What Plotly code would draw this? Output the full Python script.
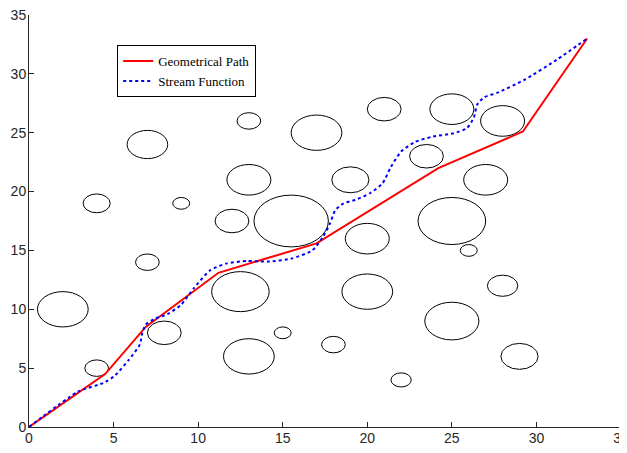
import plotly.graph_objects as go

# Obstacles (circles): centre x, centre y, radius
circle_x = [2, 4, 4, 7, 7, 8, 9, 12, 12.5, 13, 13, 13, 15, 15.5, 17, 18, 19, 20, 20, 21,
            22, 23.5, 25, 25, 25, 26, 27, 28, 28, 29]
circle_y = [10, 5, 19, 14, 24, 8, 19, 17.5, 11.5, 6, 21, 26, 8, 17.5, 25, 7, 21, 11.5, 16, 27,
            4, 23, 27, 17.5, 9, 15, 21, 26, 12, 6]
circle_r = [1.5, 0.7, 0.8, 0.7, 1.2, 1.0, 0.5, 1.0, 1.7, 1.5, 1.3, 0.7, 0.5, 2.2, 1.5, 0.7, 1.1, 1.5, 1.3, 1.0,
            0.6, 1.0, 1.3, 2.0, 1.6, 0.5, 1.3, 1.3, 0.9, 1.1]

# Geometrical path
geo_x = [0, 4.5, 6.9, 11.2, 17.0, 24.2, 29.2, 33]
geo_y = [0, 4.5, 8.5, 13.1, 15.6, 22.0, 25.1, 33]

# Stream function path
sf_x = [0, 2.9, 4.5, 5.1, 5.9, 6.55, 6.7, 6.9, 7.45, 8.2, 9.0, 9.75, 10.7, 11.7, 12.9, 14.1,
        15.5, 16.75, 17.4, 17.8, 18.1, 18.6, 19.3, 20.2, 20.9, 21.4, 22.0, 22.8, 23.8, 25.1,
        25.9, 26.3, 26.5, 26.9, 27.7, 29.3, 31.2, 33]
sf_y = [0, 3.0, 3.8, 4.4, 5.7, 7.0, 8.0, 8.7, 9.2, 9.6, 10.4, 11.8, 13.3, 13.9, 14.1, 14.05,
        14.3, 15.0, 16.2, 17.3, 18.4, 19.0, 19.3, 19.9, 20.7, 22.1, 23.4, 24.2, 24.65, 24.95,
        25.4, 26.3, 27.4, 28.0, 28.4, 29.5, 31.2, 33]

ticks = [0, 5, 10, 15, 20, 25, 30, 35]

fig = go.Figure()
fig.add_trace(go.Scatter(x=geo_x, y=geo_y, mode="lines", name="Geometrical Path",
                         line=dict(color="#ff0000", width=2)))
fig.add_trace(go.Scatter(x=sf_x, y=sf_y, mode="lines", name="Stream Function",
                         line=dict(color="#0000ff", width=2, dash="dot", shape="spline",
                                   smoothing=0.6)))

shapes = []
for cx, cy, r in zip(circle_x, circle_y, circle_r):
    shapes.append(dict(type="circle", xref="x", yref="y",
                       x0=cx - r, x1=cx + r, y0=cy - r, y1=cy + r,
                       line=dict(color="black", width=1), layer="below"))

axis_common = dict(range=[0, 35], tickvals=ticks, ticks="inside", ticklen=5,
                   tickcolor="#262626", showline=True, linecolor="#262626", linewidth=1,
                   showgrid=False, zeroline=False, mirror=False, automargin=False,
                   ticklabeloverflow="allow",
                   tickfont=dict(family="Liberation Sans, Arial", size=14, color="#262626"))

# the page body adds an 8px offset, so the figure is sized to fit the rest of the window
fig.update_layout(
    width=619, height=445,
    margin=dict(l=21, r=6, t=7, b=26),
    paper_bgcolor="white", plot_bgcolor="white",
    shapes=shapes,
    xaxis=dict(**axis_common, ticklabelstandoff=-2),
    yaxis=dict(**axis_common, ticklabelstandoff=-1),
    showlegend=True,
    legend=dict(x=0.149, y=0.927, xanchor="left", yanchor="top",
                bordercolor="black", borderwidth=1, bgcolor="white",
                font=dict(family="Liberation Serif, Times New Roman", size=13, color="black"),
                tracegroupgap=0, itemwidth=30),
)

fig.write_html("out.html")
